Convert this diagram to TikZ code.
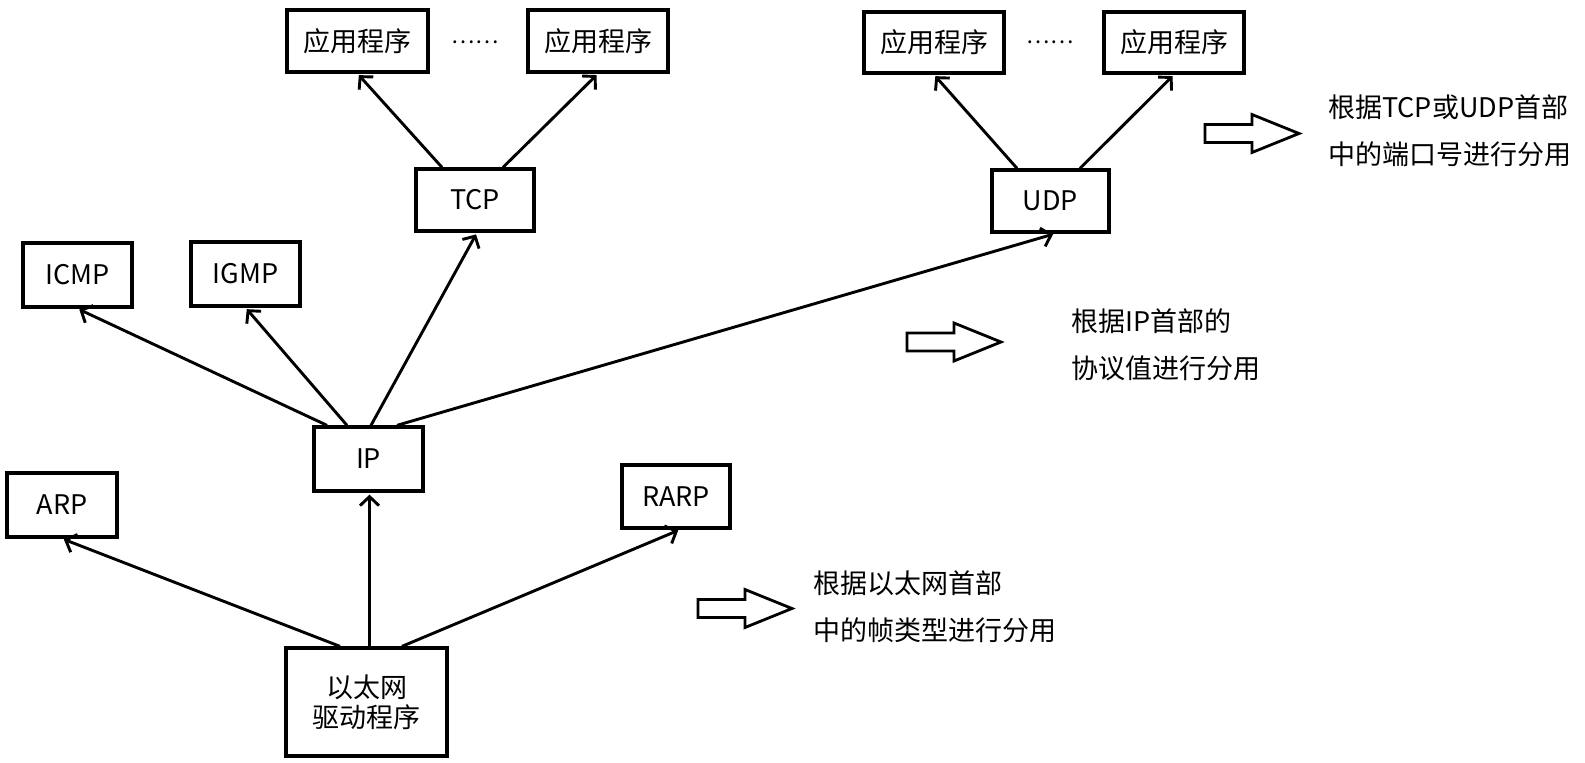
\documentclass[tikz,border=0pt]{standalone}
\usepackage{fontspec}
\setmainfont{Noto Sans CJK SC}
\usetikzlibrary{arrows.meta}
\tikzset{
  box/.style={draw, line width=3.3pt, inner sep=0pt, align=center,
    font=\fontsize{27pt}{30pt}\selectfont},
  conn/.style={line width=2.9pt, shorten >=2pt,
    -{Straight Barb[length=9pt,width=19pt,line width=2.9pt]}},
  note/.style={anchor=west, inner sep=0pt, align=left,
    font=\fontsize{27pt}{47pt}\selectfont},
  dots/.style={inner sep=0pt, font=\fontsize{22pt}{24pt}\selectfont},
  blockarrow/.pic={\draw[line width=2.8pt, line join=miter]
    (0,-9)--(47,-9)--(47,-19)--(94,0)--(47,19)--(47,9)--(0,9)--cycle;}
}
\begin{document}
\begin{tikzpicture}[x=1pt,y=-1pt]
\useasboundingbox (0,0) rectangle (1585,763);
% boxes
\node[box, minimum width=141pt, minimum height=62pt] (app1) at (357.5,41) {应用程序};
\node[box, minimum width=140pt, minimum height=62pt] (app2) at (598,41) {应用程序};
\node[box, minimum width=140pt, minimum height=61pt] (app3) at (934,42.5) {应用程序};
\node[box, minimum width=140pt, minimum height=61pt] (app4) at (1174,42.5) {应用程序};
\node[dots] (d1) at (475,42) {……};
\node[dots] (d2) at (1050,42) {……};
\node[box, minimum width=118pt, minimum height=62pt] (tcp) at (475,200) {TCP};
\node[box, minimum width=117pt, minimum height=62pt] (udp) at (1050.5,201) {UDP};
\node[box, minimum width=109pt, minimum height=64pt] (icmp) at (77.5,275) {ICMP};
\node[box, minimum width=109pt, minimum height=64pt] (igmp) at (245.5,274) {IGMP};
\node[box, minimum width=109pt, minimum height=64pt] (ip) at (368.5,459) {IP};
\node[box, minimum width=110pt, minimum height=64pt] (arp) at (62,505) {ARP};
\node[box, minimum width=108pt, minimum height=63pt] (rarp) at (676,496.5) {RARP};
\node[box, minimum width=161pt, minimum height=108pt] (eth) at (366.5,702) {以太网\\驱动程序};
% connectors
\draw[conn] ([xshift=-41.5pt]ip.north) -- (icmp.south);
\draw[conn] ([xshift=-21.5pt]ip.north) -- (igmp.south);
\draw[conn] ([xshift=2.5pt]ip.north) -- ([xshift=2pt]tcp.south);
\draw[conn] ([xshift=28.5pt]ip.north) -- ([xshift=4.5pt]udp.south);
\draw[conn] ([xshift=-33pt]tcp.north) -- (app1.south);
\draw[conn] ([xshift=28pt]tcp.north) -- (app2.south);
\draw[conn] ([xshift=-33.5pt]udp.north) -- (app3.south);
\draw[conn] ([xshift=29.5pt]udp.north) -- (app4.south);
\draw[conn] ([xshift=-26.5pt]eth.north) -- (arp.south);
\draw[conn] ([xshift=3pt]eth.north) -- ([xshift=1pt]ip.south);
\draw[conn] ([xshift=35.5pt]eth.north) -- ([xshift=4pt]rarp.south);
% block arrows
\pic at (1205,133.5) {blockarrow};
\pic at (907,342) {blockarrow};
\pic at (698,608.5) {blockarrow};
% notes
\node[note] (t1) at (1328,131) {根据TCP或UDP首部\\中的端口号进行分用};
\node[note] (t2) at (1071,345) {根据IP首部的\\协议值进行分用};
\node[note] (t3) at (813,606.5) {根据以太网首部\\中的帧类型进行分用};
\end{tikzpicture}
\end{document}
